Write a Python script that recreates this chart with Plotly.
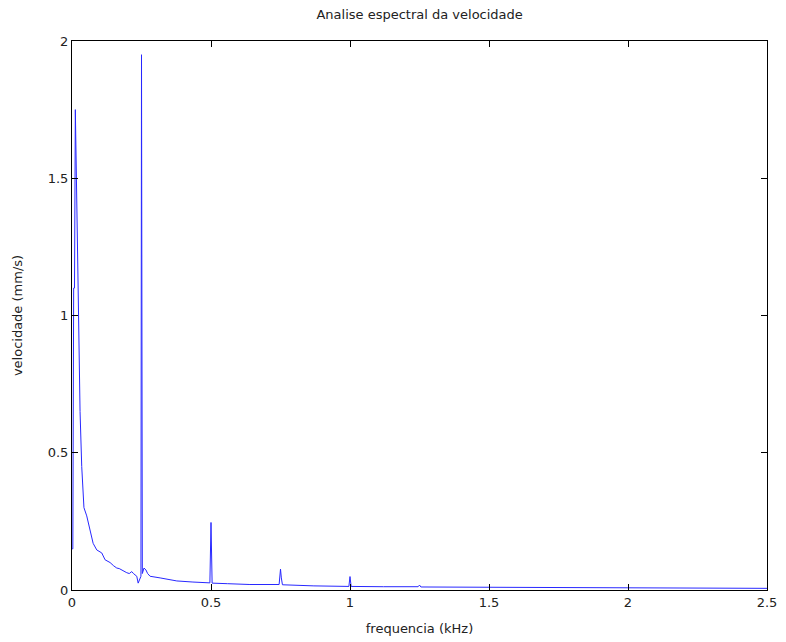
import plotly.graph_objects as go

# Frequency (kHz) and velocity amplitude (mm/s)
freq = [0.000, 0.003, 0.006, 0.009, 0.012, 0.016, 0.022, 0.029, 0.035, 0.041, 0.043,
        0.053, 0.065, 0.076, 0.089, 0.098, 0.107, 0.119, 0.128, 0.137, 0.150,
        0.161, 0.170, 0.179, 0.188, 0.197, 0.206, 0.215, 0.221, 0.227, 0.233,
        0.238, 0.245, 0.248, 0.250, 0.253, 0.259, 0.266, 0.272, 0.281, 0.317,
        0.377, 0.435, 0.496, 0.500, 0.504, 0.560, 0.640, 0.745, 0.748, 0.750,
        0.753, 0.757, 0.870, 0.996, 1.000, 1.004, 1.120, 1.245, 1.250, 1.255,
        1.500, 1.750, 2.000, 2.250, 2.500]
vel = [0.150, 0.150, 1.100, 1.100, 1.750, 1.490, 0.960, 0.650, 0.450, 0.350, 0.300,
       0.270, 0.220, 0.170, 0.146, 0.140, 0.135, 0.110, 0.104, 0.100, 0.088,
       0.080, 0.078, 0.073, 0.066, 0.063, 0.060, 0.067, 0.060, 0.055, 0.050,
       0.025, 0.048, 0.050, 1.950, 0.060, 0.080, 0.073, 0.060, 0.050, 0.044,
       0.033, 0.029, 0.026, 0.246, 0.025, 0.023, 0.020, 0.020, 0.044, 0.076,
       0.044, 0.019, 0.015, 0.013, 0.049, 0.013, 0.012, 0.012, 0.018, 0.011,
       0.010, 0.009, 0.008, 0.007, 0.006]

x_ticks = [0, 0.5, 1, 1.5, 2, 2.5]
x_tick_labels = ["0", "0.5", "1", "1.5", "2", "2.5"]
y_ticks = [0, 0.5, 1, 1.5, 2]
y_tick_labels = ["0", "0.5", "1", "1.5", "2"]

fig = go.Figure()
fig.add_trace(go.Scatter(x=freq, y=vel, mode="lines",
                         line=dict(color="rgb(40,40,255)", width=1),
                         showlegend=False, hoverinfo="x+y"))

axis_common = dict(showline=True, linecolor="black", linewidth=1, mirror="ticks",
                   ticks="inside", ticklen=6, tickcolor="black", tickwidth=1,
                   showgrid=False, zeroline=False, automargin=False,
                   tickfont=dict(family="DejaVu Sans", size=13, color="#222"))

fig.update_layout(
    width=786, height=642,
    margin=dict(l=72, r=19, t=41, b=52),
    paper_bgcolor="white", plot_bgcolor="white",
    title=dict(text="Analise espectral da velocidade", x=0.5339, xanchor="center",
               y=0.977, yanchor="middle",
               font=dict(family="DejaVu Sans", size=13, color="#222")),
    xaxis=dict(range=[0, 2.5], tickvals=x_ticks, ticktext=x_tick_labels,
               title=dict(text="frequencia (kHz)", standoff=15,
                          font=dict(family="DejaVu Sans", size=13, color="#222")),
               **axis_common),
    yaxis=dict(range=[0, 2], tickvals=y_ticks, ticktext=y_tick_labels,
               title=dict(text="velocidade (mm/s)", standoff=22,
                          font=dict(family="DejaVu Sans", size=13, color="#222")),
               **axis_common),
)

fig.write_html("out.html")
